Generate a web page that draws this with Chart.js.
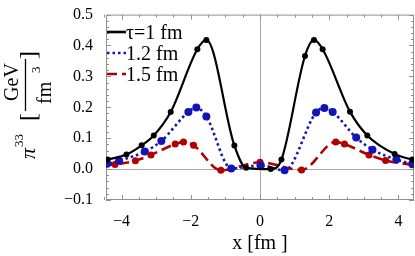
<!DOCTYPE html>
<html>
<head>
<meta charset="utf-8">
<script src="https://cdn.jsdelivr.net/npm/chart.js@4.4.1/dist/chart.umd.min.js"></script>
<style>
  html, body { margin: 0; padding: 0; background: #fff; }
</style>
</head>
<body>
<canvas id="c" width="415" height="256"></canvas>
<script>
// values
const seriesLabels = ['\u03c4=1 fm', '1.2 fm', '1.5 fm'];
const xTicks = [-4, -2, 0, 2, 4];
const yTicks = [-0.1, 0, 0.1, 0.2, 0.3, 0.4, 0.5];

const tau1X = [-4.5, -4.40, -3.86, -3.42, -3.07, -2.58, -1.81, -1.55, -0.74, -0.40, 0.31, 0.62, 1.30, 1.56, 1.81, 2.60, 3.10, 3.89, 4.40, 4.5];
const tau1Y = [0.028, 0.031, 0.047, 0.077, 0.109, 0.185, 0.388, 0.418, 0.076, 0.004, 0.000, 0.031, 0.366, 0.418, 0.388, 0.186, 0.109, 0.049, 0.031, 0.029];

const tau12X = [-4.5, -4.42, -4.07, -3.33, -2.85, -2.07, -1.84, -1.55, -0.83, 0.02, 0.71, 1.62, 1.86, 2.10, 2.78, 3.25, 3.94, 4.40, 4.5];
const tau12Y = [0.015, 0.017, 0.027, 0.057, 0.091, 0.185, 0.199, 0.170, 0.002, 0.012, -0.004, 0.183, 0.198, 0.185, 0.102, 0.063, 0.031, 0.017, 0.015];

const tau15X = [-4.5, -4.19, -3.60, -3.15, -2.45, -2.21, -1.92, -1.13, 0.00, 1.20, 2.19, 2.44, 3.15, 3.63, 4.40, 4.5];
const tau15Y = [0.012, 0.015, 0.027, 0.046, 0.081, 0.088, 0.077, -0.004, 0.022, -0.003, 0.088, 0.081, 0.046, 0.028, 0.014, 0.012];

const serif = "'Liberation Serif', 'Times New Roman', serif";
const colors = ['#000000', '#1414b4', '#b00000'];
const dashes = [[], [2.5, 3], [10, 5]];
const radii = [3, 4, 3.5];

const pts = (xs, ys) => xs.map((x, i) => ({ x, y: ys[i] }));
const mark = r => c => (c.raw && Math.abs(c.raw.x) < 4.45 ? r : 0);

const datasets = [[tau1X, tau1Y], [tau12X, tau12Y], [tau15X, tau15Y]].map((s, i) => ({
  label: seriesLabels[i],
  data: pts(s[0], s[1]),
  borderColor: colors[i],
  backgroundColor: colors[i],
  borderWidth: i === 0 ? 2.2 : 2.6,
  borderDash: dashes[i],
  pointRadius: mark(radii[i]),
  pointHoverRadius: 0,
  pointBorderWidth: 0,
  cubicInterpolationMode: 'monotone',
  fill: false
}));

const minus = v => (v < 0 ? '\u2212' : '') + Math.abs(v);
const oneDec = v => (v < 0 ? '\u2212' : '') + Math.abs(v).toFixed(1);

// frame, zero axes and inward ticks on all four sides
const framePlugin = {
  id: 'frame',
  beforeDatasetsDraw(chart) {
    const { ctx, chartArea: a, scales: { x, y } } = chart;
    ctx.save();
    ctx.strokeStyle = '#a8a8a8';
    ctx.lineWidth = 1;
    const px = v => Math.round(x.getPixelForValue(v)) + 0.5;
    const py = v => Math.round(y.getPixelForValue(v)) + 0.5;
    ctx.beginPath();
    ctx.moveTo(px(0), a.top); ctx.lineTo(px(0), a.bottom);
    ctx.moveTo(a.left, py(0)); ctx.lineTo(a.right, py(0));
    ctx.stroke();
    ctx.strokeStyle = '#909090';
    ctx.strokeRect(a.left + 0.5, a.top + 0.5, a.right - a.left - 1, a.bottom - a.top - 1);
    ctx.beginPath();
    for (let i = -9; i <= 9; i++) {
      const v = i / 2, len = i % 4 === 0 ? 5 : 3, p = px(v);
      ctx.moveTo(p, a.bottom); ctx.lineTo(p, a.bottom - len);
      ctx.moveTo(p, a.top); ctx.lineTo(p, a.top + len);
    }
    for (let i = -5; i <= 25; i++) {
      const v = i / 50, len = i % 5 === 0 ? 5 : 3, p = py(v);
      ctx.moveTo(a.left, p); ctx.lineTo(a.left + len, p);
      ctx.moveTo(a.right, p); ctx.lineTo(a.right - len, p);
    }
    ctx.stroke();
    ctx.restore();
  }
};

// legend in the upper left corner of the plot
const legendPlugin = {
  id: 'inlegend',
  afterDraw(chart) {
    const { ctx } = chart;
    const rows = [32, 53, 74];
    ctx.save();
    ctx.font = '20px ' + serif;
    ctx.textBaseline = 'alphabetic';
    rows.forEach((yy, i) => {
      ctx.strokeStyle = colors[i];
      ctx.lineWidth = 2.6;
      ctx.setLineDash(dashes[i]);
      ctx.beginPath(); ctx.moveTo(107, yy); ctx.lineTo(126, yy); ctx.stroke();
      ctx.fillStyle = '#000';
      ctx.fillText(seriesLabels[i], 126, yy + 6.5);
    });
    ctx.restore();
  }
};

// rotated y title: pi^33 [GeV / fm^3]
const yTitlePlugin = {
  id: 'ytitle',
  afterDraw(chart) {
    const { ctx } = chart;
    ctx.save();
    ctx.rotate(-Math.PI / 2);
    ctx.fillStyle = '#000';
    ctx.textBaseline = 'alphabetic';
    ctx.textAlign = 'left';
    ctx.font = 'italic 22px ' + serif;
    ctx.fillText('\u03c0', -159, 35);
    ctx.font = '13px ' + serif;
    ctx.fillText('33', -147, 23);
    ctx.font = '24px ' + serif;
    ctx.fillText('[', -121, 36);
    ctx.fillText(']', -59, 36);
    ctx.textAlign = 'center';
    ctx.font = '20px ' + serif;
    ctx.fillText('GeV', -82, 18);
    ctx.textAlign = 'left';
    ctx.fillText('fm', -104, 51);
    ctx.font = '13px ' + serif;
    ctx.fillText('3', -73, 40);
    ctx.strokeStyle = '#000';
    ctx.lineWidth = 1.3;
    ctx.beginPath(); ctx.moveTo(-111, 25.5); ctx.lineTo(-59, 25.5); ctx.stroke();
    ctx.restore();
  }
};

new Chart(document.getElementById('c'), {
  type: 'line',
  data: { datasets },
  options: {
    responsive: false,
    devicePixelRatio: 1,
    animation: false,
    layout: { padding: { top: 11, right: 1, left: 0, bottom: 0 } },
    plugins: { legend: { display: false }, tooltip: { enabled: false } },
    scales: {
      x: {
        type: 'linear', min: -4.45, max: 4.45,
        grid: { display: false }, border: { display: false },
        afterBuildTicks: s => { s.ticks = xTicks.map(v => ({ value: v })); },
        afterFit: s => { s.height = 56; },
        ticks: { color: '#000', padding: 4, font: { family: serif, size: 16 }, callback: v => minus(v), maxRotation: 0 },
        title: { display: true, text: 'x [fm ]', color: '#000', font: { family: serif, size: 20, lineHeight: 0.85 } }
      },
      y: {
        type: 'linear', min: -0.1, max: 0.5,
        grid: { display: false }, border: { display: false },
        afterBuildTicks: s => { s.ticks = yTicks.map(v => ({ value: v })); },
        afterFit: s => { s.width = 106; },
        ticks: { color: '#000', padding: 5, font: { family: serif, size: 16 }, callback: v => oneDec(Number(v)) }
      }
    }
  },
  plugins: [framePlugin, legendPlugin, yTitlePlugin]
});
</script>
</body>
</html>
